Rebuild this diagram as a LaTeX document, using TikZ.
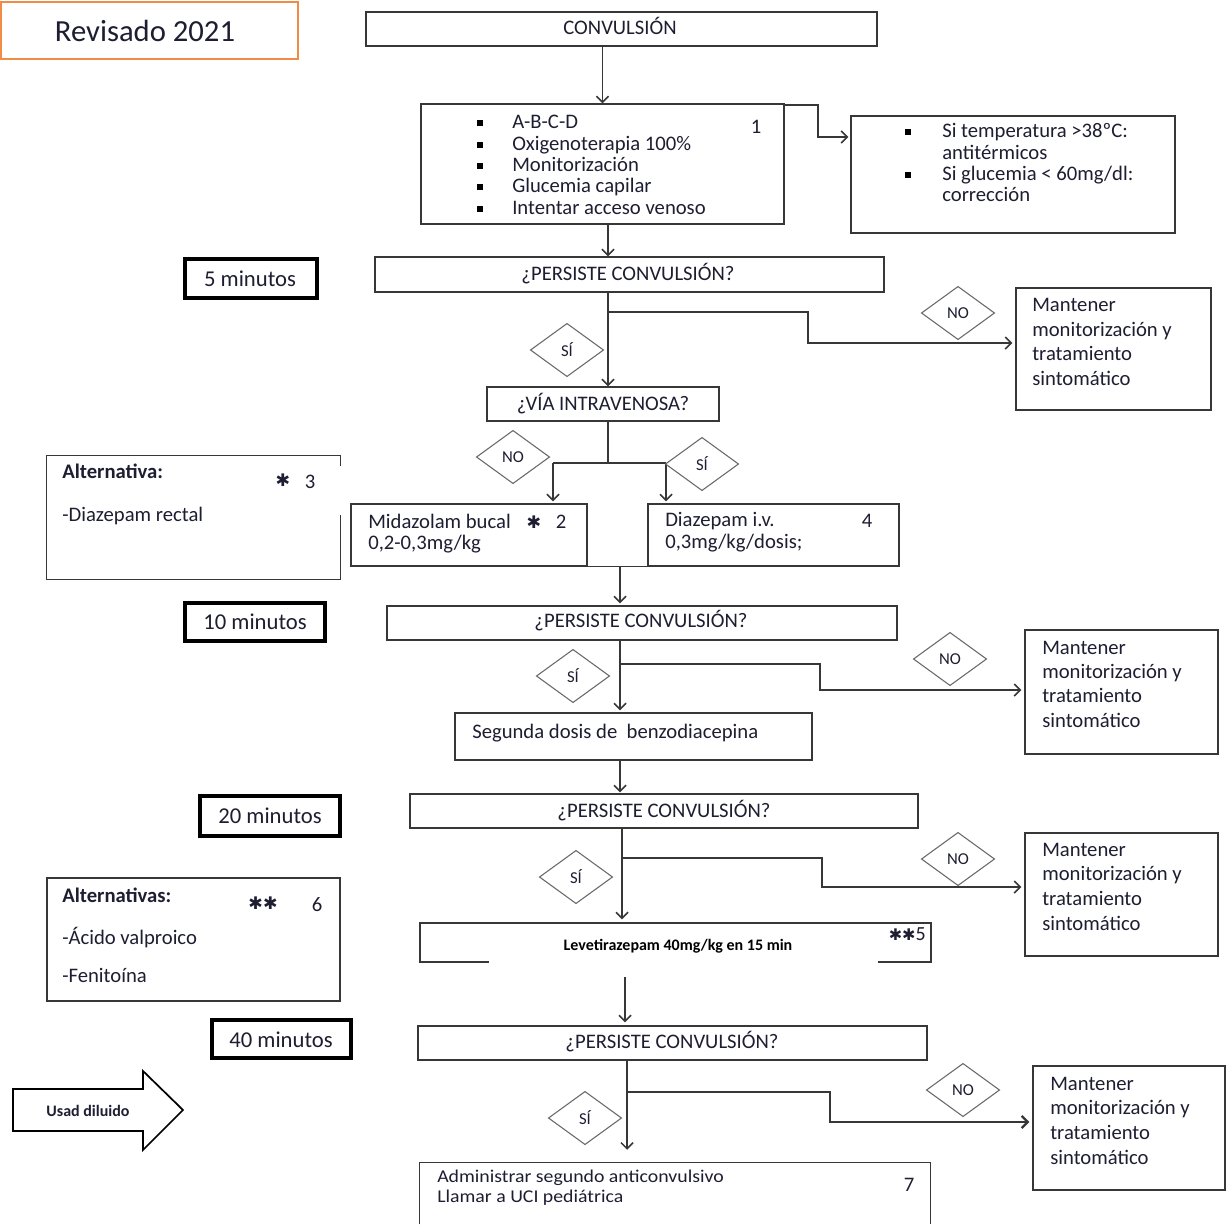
\documentclass[tikz,border=0pt]{standalone}
\usepackage{fontspec}
\setmainfont{Carlito}
\newfontfamily\djv{DejaVu Sans}
\newfontfamily\cond[FakeStretch=1.1]{Carlito}
\usetikzlibrary{fit,shapes.geometric,arrows.meta,calc}
\definecolor{tc}{RGB}{30,30,50}
\definecolor{lc}{RGB}{55,55,55}
\definecolor{dg}{RGB}{105,105,105}
\definecolor{org}{RGB}{240,140,70}
\newcommand\fbody{\fontsize{15.5}{18}\selectfont}
\begin{document}
\begin{tikzpicture}[x=0.75pt,y=-0.75pt,
  box/.style={draw=lc,line width=1.1pt,inner sep=0},
  tbox/.style={draw=black,line width=3pt,inner sep=0},
  hid/.style={inner sep=0},
  tx/.style={inner sep=0,text=tc,font=\fbody,text height=10.5pt,text depth=3pt},
  txl/.style={tx,anchor=west},
  tmin/.style={inner sep=0,text=tc,font=\fontsize{17}{20}\selectfont},
  bul/.style={fill=black,inner sep=0,minimum size=4.2pt},
  dia/.style={diamond,draw=dg,line width=0.8pt,inner sep=0,minimum width=55pt,minimum height=40pt,text=tc,font=\fontsize{12.5}{14}\selectfont},
  arr/.style={draw=lc,line width=1.1pt,-{Straight Barb[length=4.5pt,width=9pt]}},
  ln/.style={draw=lc,line width=1.1pt},
  star/.style={inner sep=0,text=tc,font=\djv\fontsize{13}{14}\selectfont}]
\useasboundingbox[fill=white] (0,0) rectangle (1226,1224);

% ---------- header ----------
\node[box,draw=org,line width=1.5pt,fit={(1,2)(298,59)}] (rev) {};
\node[inner sep=0,text=tc,font=\fontsize{23}{26}\selectfont] (revt) at (145,31) {Revisado 2021};

\node[box,line width=1.5pt,fit={(366,12)(877,46)}] (conv) {};
\node[tx] (convt) at (620,29) {CONVULSIÓN};

% ---------- box 1 ----------
\node[box,fit={(421,104)(784,224)}] (box1) {};
\node[bul] (bu1) at (480,123) {};
\node[bul] (bu2) at (480,145) {};
\node[bul] (bu3) at (480,166) {};
\node[bul] (bu4) at (480,187) {};
\node[bul] (bu5) at (480,209) {};
\node[txl] (b1a) at (512,123) {A-B-C-D};
\node[txl] (b1b) at (512,145) {Oxigenoterapia 100\%};
\node[txl] (b1c) at (512,166) {Monitorización};
\node[txl] (b1d) at (512,187) {Glucemia capilar};
\node[txl] (b1e) at (512,209) {Intentar acceso venoso};
\node[tx] (n1) at (756,128) {1};

\node[box,fit={(851,116)(1175,233)}] (tmp) {};
\node[bul] (bu6) at (908,132) {};
\node[bul] (bu7) at (908,175) {};
\node[txl] (tpa) at (942,132) {Si temperatura >38ºC:};
\node[txl] (tpb) at (942,154) {antitérmicos};
\node[txl] (tpc) at (942,175) {Si glucemia < 60mg/dl:};
\node[txl] (tpd) at (942,196) {corrección};

\draw[arr] (conv.south -| box1.north) -- (box1.north);
\coordinate (kt1) at (818,105);
\coordinate (kt2) at (818,137);
\draw[arr] (box1.north east |- kt1) -- (kt1) -- (kt2) -- ($(kt2 -| tmp.west)+(-2,0)$);

% ---------- 5 minutos ----------
\node[tbox,fit={(185,259)(317,298)}] (t5) {};
\node[tmin] (t5t) at (250,279) {5 minutos};
\node[box,fit={(375,257)(884,292)}] (p1) {};
\node[tx] (p1t) at (628,275) {¿PERSISTE CONVULSIÓN?};
\coordinate (xB) at (608,0);
\draw[arr] (box1.south -| xB) -- (p1.north -| xB);

\node[box,fit={(1016,288)(1211,410)}] (m1) {};
\node[txl] (m1a) at (1032,306) {Mantener};
\node[txl] (m1b) at (1032,331) {monitorización y};
\node[txl] (m1c) at (1032,355) {tratamiento};
\node[txl] (m1d) at (1032,380) {sintomático};

\node[box,fit={(487,387)(719,421)}] (via) {};
\node[tx] (viat) at (603,405) {¿VÍA INTRAVENOSA?};
\draw[arr] (p1.south -| xB) -- (via.north -| xB);
\coordinate (k1) at (808,312);
\coordinate (k1b) at (808,343);
\draw[arr] (k1 -| xB) -- (k1) -- (k1b) -- ($(k1b -| m1.west)+(-3,0)$);
\node[dia] (d1n) at (958,313) {NO};
\node[dia] (d1s) at (567,350) {SÍ};

% ---------- vía split ----------
\node[box,fit={(351,504)(587,566)}] (mid) {};
\node[box,fit={(648,504)(899,566)}] (diaz) {};
\draw[ln] (mid.south east) -- (diaz.south west);
\coordinate (s2) at (608,463);
\coordinate (sL) at (553,463);
\coordinate (sR) at (666,463);
\draw[ln] (via.south -| xB) -- (s2);
\draw[ln,line width=1.6pt] (sL) -- (sR);
\draw[arr] (sL) -- ($(mid.north -| sL)+(0,-2)$);
\draw[arr] (sR) -- ($(diaz.north -| sR)+(0,-2)$);
\node[dia] (d2n) at (513,457) {NO};
\node[dia] (d2s) at (702,464) {SÍ};

\node[txl] (mda) at (368,523) {Midazolam bucal};
\node[star] (mds) at (534,522) {✱};
\node[tx] (mdn) at (561,523) {2};
\node[txl] (mdb) at (368,544) {0,2-0,3mg/kg};
\node[txl] (dza) at (665,521) {Diazepam i.v.};
\node[tx] (dzn) at (867,522) {4};
\node[txl] (dzb) at (665,543) {0,3mg/kg/dosis;};

% alternativa 1
\node[hid,fit={(47,456)(340,579)}] (alt1) {};
\draw[ln] ($(alt1.north east)+(0,10)$) -- (alt1.north east) -- (alt1.north west) -- (alt1.south west) -- (alt1.south east) -- ($(alt1.south east)+(0,-64)$);
\node[txl,font=\fbody\bfseries] (a1a) at (62,473) {Alternativa:};
\node[star] (a1s) at (283,480) {✱};
\node[tx] (a1n) at (310,483) {3};
\node[txl] (a1b) at (62,516) {-Diazepam rectal};

% ---------- 10 minutos ----------
\node[tbox,fit={(185,603)(325,641)}] (t10) {};
\node[tmin] (t10t) at (255,622) {10 minutos};
\node[box,fit={(387,606)(897,640)}] (p2) {};
\node[tx] (p2t) at (641,622) {¿PERSISTE CONVULSIÓN?};
\coordinate (xC) at (620,0);
\draw[arr] (mid.south east -| xC) -- ($(p2.north -| xC)+(0,-2)$);

\node[box,fit={(1025,630)(1218,754)}] (m2) {};
\node[txl] (m2a) at (1042,649) {Mantener};
\node[txl] (m2b) at (1042,673) {monitorización y};
\node[txl] (m2c) at (1042,697) {tratamiento};
\node[txl] (m2d) at (1042,722) {sintomático};

\node[box,fit={(455,713)(812,760)}] (seg) {};
\node[txl] (segt) at (472,733) {Segunda dosis de~ benzodiacepina};
\draw[arr] (p2.south -| xC) -- ($(seg.north -| xC)+(0,-2)$);
\coordinate (k2) at (820,664);
\coordinate (k2b) at (820,690);
\draw[arr] (k2 -| xC) -- (k2) -- (k2b) -- ($(k2b -| m2.west)+(-3,0)$);
\node[dia] (d3n) at (950,659) {NO};
\node[dia] (d3s) at (573,676) {SÍ};

% ---------- 20 minutos ----------
\node[tbox,fit={(200,796)(340,836)}] (t20) {};
\node[tmin] (t20t) at (270,816) {20 minutos};
\node[box,fit={(410,794)(918,828)}] (p3) {};
\node[tx] (p3t) at (664,812) {¿PERSISTE CONVULSIÓN?};
\draw[arr] (seg.south -| xC) -- ($(p3.north -| xC)+(0,-1)$);

\node[box,fit={(1025,833)(1218,956)}] (m3) {};
\node[txl] (m3a) at (1042,851) {Mantener};
\node[txl] (m3b) at (1042,875) {monitorización y};
\node[txl] (m3c) at (1042,900) {tratamiento};
\node[txl] (m3d) at (1042,925) {sintomático};

\node[box,fit={(420,923)(931,962)}] (lev) {};
\coordinate (xD) at (622,0);
\draw[arr] (p3.south -| xD) -- ($(lev.north -| xD)+(0,-3)$);
\coordinate (k3) at (822,858);
\coordinate (k3b) at (822,887);
\draw[arr] (k3 -| xD) -- (k3) -- (k3b) -- ($(k3b -| m3.west)+(-3,0)$);
\node[dia] (d4n) at (958,859) {NO};
\node[dia] (d4s) at (576,877) {SÍ};

\node[hid,fill=white,fit={(489,929)(878,977)}] (cov) {};
\node[inner sep=0,text=black,font=\fontsize{12}{14}\selectfont\bfseries] (levt) at (678,946) {Levetirazepam 40mg/kg en 15 min};
\node[inner sep=0,anchor=east,text=tc,font=\fontsize{15}{16}\selectfont] (lvs) at (926,934) {{\djv\fontsize{12}{14}\selectfont ✱✱}5};

% alternativas 2
\node[box,fit={(47,878)(340,1001)}] (alt2) {};
\node[txl,font=\fbody\bfseries] (a2a) at (62,897) {Alternativas:};
\node[star] (a2s) at (263,903) {✱✱};
\node[tx] (a2n) at (317,906) {6};
\node[txl] (a2b) at (62,939) {-Ácido valproico};
\node[txl] (a2c) at (62,977) {-Fenitoína};

% ---------- 40 minutos ----------
\node[tbox,fit={(212,1020)(351,1058)}] (t40) {};
\node[tmin] (t40t) at (281,1040) {40 minutos};
\node[box,fit={(418,1026)(927,1060)}] (p4) {};
\node[tx] (p4t) at (672,1043) {¿PERSISTE CONVULSIÓN?};
\coordinate (xE) at (625,0);
\draw[arr] (cov.south -| xE) -- ($(p4.north -| xE)+(0,-3)$);

\node[box,fit={(1033,1066)(1225,1190)}] (m4) {};
\node[txl] (m4a) at (1050,1085) {Mantener};
\node[txl] (m4b) at (1050,1109) {monitorización y};
\node[txl] (m4c) at (1050,1134) {tratamiento};
\node[txl] (m4d) at (1050,1159) {sintomático};

\node[hid,fit={(420,1163)(930,1224)}] (fin) {};
\draw[ln] (fin.south west) -- (fin.north west) -- (fin.north east) -- (fin.south east);
\node[txl,font=\cond\fontsize{13.5}{15}\selectfont,text height=9pt,text depth=2.5pt] (fna) at (437,1178) {Administrar segundo anticonvulsivo};
\node[txl,font=\cond\fontsize{13.5}{15}\selectfont,text height=9pt,text depth=2.5pt] (fnb) at (437,1198) {Llamar a UCI pediátrica};
\node[tx] (fnn) at (909,1186) {7};

\coordinate (xF) at (627,0);
\draw[arr] (p4.south -| xF) -- ($(fin.north -| xF)+(0,-13)$);
\coordinate (k4) at (830,1092);
\coordinate (k4b) at (830,1122);
\draw[arr,line width=1.7pt] (k4 -| xF) -- (k4) -- (k4b) -- ($(k4b -| m4.west)+(-3,0)$);
\node[dia] (d5n) at (963,1090) {NO};
\node[dia] (d5s) at (585,1118) {SÍ};

% ---------- block arrow ----------
\draw[line width=1.3pt,draw=black] (13,1089) -- (143,1089) -- (143,1071) -- (183,1110) -- (143,1150) -- (143,1131) -- (13,1131) -- cycle;
\node[inner sep=0,text=tc,font=\fontsize{12}{14}\selectfont\bfseries] (usd) at (88,1111) {Usad diluido};
\end{tikzpicture}
\end{document}
